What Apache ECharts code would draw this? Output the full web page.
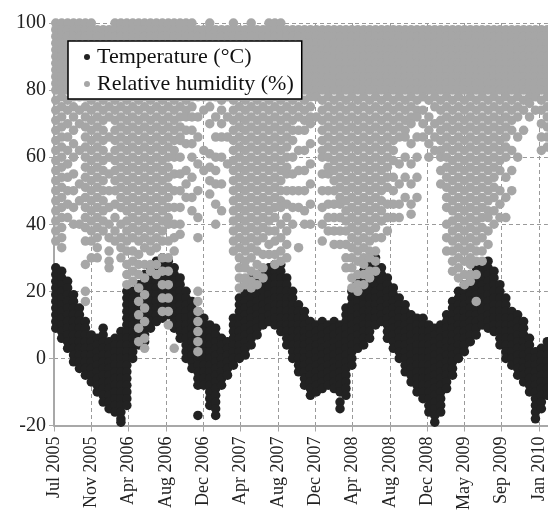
<!DOCTYPE html>
<html>
<head>
<meta charset="utf-8">
<script src="https://cdn.jsdelivr.net/npm/echarts@6/dist/echarts.min.js"></script>
<style>
  html, body { margin: 0; padding: 0; background: #fff; }
  #chart { width: 548px; height: 513px; }
</style>
</head>
<body>
<div id="chart"></div>
<script>
// x: days since early Jul 2005, one column of readings every 20 days
const binDay = [6, 26, 46, 66, 86, 106, 126, 146, 166, 186, 206, 226, 246, 266, 286, 306, 326, 346, 366, 386,
  406, 426, 446, 466, 486, 506, 526, 546, 566, 586, 606, 626, 646, 666, 686, 706, 726, 746, 766, 786,
  806, 826, 846, 866, 886, 906, 926, 946, 966, 986, 1006, 1026, 1046, 1066, 1086, 1106, 1126, 1146, 1166, 1186,
  1206, 1226, 1246, 1266, 1286, 1306, 1326, 1346, 1366, 1386, 1406, 1426, 1446, 1466, 1486, 1506, 1526, 1546, 1566, 1586,
  1606, 1626, 1646, 1666]

const tickLabels = ['Jul 2005', 'Nov 2005', 'Apr 2006', 'Aug 2006', 'Dec 2006', 'Apr 2007', 'Aug 2007',
  'Dec 2007', 'Apr 2008', 'Aug 2008', 'Dec 2008', 'May 2009', 'Sep 2009', 'Jan 2010']

// temperature readings (°C) in each column
const tempByBin = [
  [27,25,23,21,19,17,15,13,11,9],
  [26,24,22,20,18,16,14,12,10,8,6],
  [23,21,19,17,15,13,11,9,7,5,3],
  [19,17,15,13,11,9,7,5,3,1,-1],
  [15,13,11,9,7,5,3,1,-1,-3],
  [11,9,7,5,3,1,-1,-3,-5],
  [7,5,3,1,-1,-3,-5,-7],
  [6,4,2,0,-2,-4,-6,-8,-10],
  [9,7,5,3,1,-1,-3,-5,-7,-9,-11,-13],
  [5,3,1,-1,-3,-5,-7,-9,-11,-13,-15],
  [6,4,2,0,-2,-4,-6,-8,-10,-12,-14,-16],
  [8,6,4,2,0,-2,-4,-6,-8,-10,-12,-14,-16,-18,-19],
  [20,18,16,14,12,10,8,6,4,2,0,-2,-4,-6,-8,-10,-12,-14],
  [20,18,16,14,12,10,8,6,4,2,0],
  [22,20,18,16,14,12,10,8,6,4],
  [25,23,21,19,17,15,13,11,9,7,5],
  [27,25,23,21,19,17,15,13,11,9],
  [29,27,25,23,21,19,17,15,13,11],
  [30,28,26,24,22,20,18,16,14,12],
  [29,27,25,23,21,19,17,15,13],
  [27,25,23,21,19,17,15,13,11,9],
  [24,22,20,18,16,14,12,10,8,6],
  [20,18,16,14,12,10,8,6,4,2,0],
  [17,15,13,11,9,7,5,3,1,-1,-3],
  [14,12,10,8,6,4,2,0,-2,-4,-6,-8,-17],
  [12,10,8,6,4,2,0,-2,-4,-6,-8],
  [10,8,6,4,2,0,-2,-4,-6,-8,-10,-12,-14],
  [9,7,5,3,1,-1,-3,-5,-7,-9,-11,-13,-15,-17],
  [6,4,2,0,-2,-4,-6,-8],
  [5,3,1,-1,-3,-5],
  [12,10,8,6,4,2,0,-2],
  [18,16,14,12,10,8,6,4,2,0],
  [21,19,17,15,13,11,9,7,5,3,1],
  [24,22,20,18,16,14,12,10,8,6,4],
  [25,23,21,19,17,15,13,11,9,7],
  [26,24,22,20,18,16,14,12,10],
  [27,25,23,21,19,17,15,13,11],
  [28,26,24,22,20,18,16,14,12,10],
  [28,26,24,22,20,18,16,14,12,10,8],
  [24,22,20,18,16,14,12,10,8,6,4],
  [20,18,16,14,12,10,8,6,4,2,0],
  [16,14,12,10,8,6,4,2,0,-2,-4],
  [14,12,10,8,6,4,2,0,-2,-4,-6,-8],
  [11,9,7,5,3,1,-1,-3,-5,-7,-9,-11],
  [10,8,6,4,2,0,-2,-4,-6,-8,-10],
  [11,9,7,5,3,1,-1,-3,-5,-7,-9],
  [10,8,6,4,2,0,-2,-4,-6,-8],
  [11,9,7,5,3,1,-1,-3,-5,-7,-9],
  [10,8,6,4,2,0,-2,-4,-6,-8,-10,-13,-15],
  [15,13,11,9,7,5,3,1,-1,-3,-5,-7,-9,-11],
  [20,18,16,14,12,10,8,6,4,2,0,-2],
  [23,21,19,17,15,13,11,9,7,5,3],
  [26,24,22,20,18,16,14,12,10,8,6,4],
  [28,26,24,22,20,18,16,14,12,10,8,6],
  [30,28,26,24,22,20,18,16,14,12,10],
  [27,25,23,21,19,17,15,13,11],
  [24,22,20,18,16,14,12,10,8,6],
  [21,19,17,15,13,11,9,7,5,3],
  [18,16,14,12,10,8,6,4,2,0],
  [16,14,12,10,8,6,4,2,0,-2,-4],
  [13,11,9,7,5,3,1,-1,-3,-5,-7],
  [12,10,8,6,4,2,0,-2,-4,-6,-8,-10],
  [12,10,8,6,4,2,0,-2,-4,-6,-8,-10,-12],
  [10,8,6,4,2,0,-2,-4,-6,-8,-10,-12,-14,-16],
  [9,7,5,3,1,-1,-3,-5,-7,-9,-11,-13,-15,-17,-19],
  [10,8,6,4,2,0,-2,-4,-6,-8,-10,-12,-14,-16],
  [13,11,9,7,5,3,1,-1,-3,-5,-7,-9],
  [17,15,13,11,9,7,5,3,1,-1,-3,-5],
  [20,18,16,14,12,10,8,6,4,2,0],
  [22,20,18,16,14,12,10,8,6,4,2],
  [25,23,21,19,17,15,13,11,9,7,5],
  [27,25,23,21,19,17,15,13,11,9,7],
  [28,26,24,22,20,18,16,14,12,10],
  [29,27,25,23,21,19,17,15,13,11,9],
  [26,24,22,20,18,16,14,12,10,8],
  [22,20,18,16,14,12,10,8,6,4],
  [18,16,14,12,10,8,6,4,2,0],
  [14,12,10,8,6,4,2,0,-2],
  [13,11,9,7,5,3,1,-1,-3,-5],
  [11,9,7,5,3,1,-1,-3,-5,-7],
  [6,4,2,0,-2,-4,-6,-8,-10],
  [2,0,-2,-4,-6,-8,-10,-12,-14,-16,-18],
  [3,1,-1,-3,-5,-7,-9,-11,-13,-15],
  [5,3,1,-1,-3,-5,-7,-9,-11]
]

// relative humidity readings (%) in each column (the part under the legend box is hidden anyway)
const rhByBin = [
  [100,98,96,94,92,90,88,86,84,82,80,77,74,71,68,65,62,59,56,53,50,47,44,41,38,35],
  [100,98,96,94,92,90,88,86,84,82,80,78,75,72,69,66,63,60,57,54,51,48,45,42,39,36,33],
  [100,98,96,94,92,90,88,86,84,82,80,77,74,70,66,62,58,54,50,46,42],
  [100,98,96,78,75,72,68,64,60,55,50,45,40],
  [100,98,96,78,74,70,62,52,47,40],
  [100,98,96,78,75,72,69,66,63,60,57,54,51,48,45,42,39,35,28,20,17],
  [100,98,96,77,74,71,68,65,62,59,56,53,50,47,44,41,38,35,30],
  [98,96,78,75,72,69,66,63,60,57,54,51,48,45,42,39,36,33,30],
  [98,96,77,74,71,68,65,62,59,56,53,50,47,44,41,38],
  [98,96,78,75,72,66,60,55,50,45,40,36,32,29,27],
  [100,98,96,77,74,71,68,65,62,59,56,53,50,46,42,38,35],
  [100,98,96,78,75,72,69,66,63,60,57,54,51,48,45,40,36,33,30],
  [100,98,96,77,74,71,68,65,62,59,56,53,50,47,44,41,38,35,32,28,25,22],
  [100,98,96,78,75,72,69,66,63,60,57,54,51,48,45,42,39,36,32,29,26,23],
  [100,98,96,77,74,71,68,65,62,59,56,53,50,47,44,41,38,35,31,28,25,21,17,13,9,5],
  [100,98,96,78,75,72,69,66,63,60,57,54,51,48,45,42,39,36,33,28,24,19,15,11,6,3],
  [100,98,96,77,74,71,68,65,62,59,56,53,50,47,44,41,38,35,32,28,26],
  [100,98,96,78,75,72,69,66,63,60,57,54,51,48,45,42,39,36,33,28,25],
  [100,98,96,77,74,71,68,65,62,59,56,53,50,47,44,41,38,35,30,26,22,18,14],
  [100,98,96,78,75,72,69,66,63,60,57,54,51,48,45,42,40,35,30,26,22,18,14,10],
  [100,98,96,77,74,71,68,65,62,60,55,50,45,40,36,32,3],
  [100,98,96,78,75,72,69,66,65,60,55,50,45,40,37],
  [100,98,96,77,74,72,68,64,56,52,48],
  [100,98,96,78,75,72,68,64,60,54,48,44],
  [98,96,78,72,66,58,50,42,36,20,17,14,11,8,5,2],
  [98,96,78,74,62,56],
  [100,98,96,78,75,70,61,57,53,49],
  [98,96,78,72,66,60,56,52,46,40],
  [98,96,77,74,70,66,60,52,44],
  [98,96,78,72,66,58],
  [100,98,96,77,74,71,68,65,62,59,56,53,50,47,44,41,38,35,32],
  [98,96,78,75,72,69,66,63,60,57,54,51,48,45,42,39,36,33,30,27,24,21],
  [98,96,77,74,71,68,65,62,59,56,53,50,47,44,41,38,35,32,29,27,24,22],
  [100,98,96,78,75,72,69,66,63,60,57,54,51,48,45,42,39,36,33,30,26,23,21],
  [98,96,77,74,71,68,65,62,59,56,53,50,47,44,41,38,35,32,28,25,22],
  [98,96,78,75,72,69,66,63,60,57,54,51,48,45,42,39,36,31,27,24],
  [100,98,96,77,74,71,68,65,62,59,56,53,50,47,44,41,38,34,31],
  [100,98,96,78,75,72,69,66,63,60,57,54,51,48,45,42,38,35,31,28],
  [100,98,96,77,74,71,68,65,62,59,56,53,50,47,45,40,36,32,29],
  [98,96,78,75,72,69,66,63,60,57,55,50,46,42,38,34,30],
  [98,96,77,74,71,68,65,60,55,50,45,40],
  [98,96,78,75,72,68,62,56,50,45,33],
  [98,96,94,92,90,88,86,84,82,80,77,74,71,68,62,56,50,44,40],
  [98,96,94,92,90,88,86,84,82,80,78,75,72,70,64,58,52,46,40],
  [98,96,94,92,90,88,86,84,82,80,78,72],
  [98,96,94,92,90,88,86,84,82,80,77,74,71,68,65,62,60,55,50,45,40,35],
  [98,96,94,92,90,88,86,84,82,80,78,75,72,69,66,63,60,57,55,50,46,42,38],
  [98,96,94,92,90,88,86,84,82,80,77,74,71,68,65,62,59,56,53,50,46,42,38,34],
  [98,96,94,92,90,88,86,84,82,80,78,75,72,69,66,63,60,57,54,51,48,46,42,38,34],
  [98,96,94,92,90,88,86,84,82,80,77,74,71,68,65,62,59,56,53,50,47,44,41,38,34,30,27],
  [98,96,94,92,90,88,86,84,82,80,78,75,72,69,66,63,60,57,54,51,48,45,42,39,36,33,30,27,24,21],
  [98,96,94,92,90,88,86,84,82,80,77,74,71,68,65,62,59,56,53,50,47,44,41,38,35,32,29,25,22,20],
  [98,96,94,92,90,88,86,84,82,80,78,75,72,69,66,63,60,57,54,51,48,45,42,39,36,33,30,28,25,22],
  [98,96,94,92,90,88,86,84,82,80,77,74,71,68,65,62,59,56,53,50,47,44,41,38,35,32,30,26,24],
  [98,96,94,92,90,88,86,84,82,80,78,75,72,69,66,63,60,57,54,51,48,45,42,39,36,32,29,26],
  [98,96,94,92,90,88,86,84,82,80,77,74,71,68,65,62,59,56,53,50,47,44,41,36],
  [98,96,94,92,90,88,86,84,82,80,78,75,72,69,66,63,60,57,54,51,46,42,38],
  [98,96,94,92,90,88,86,84,82,80,77,74,71,68,65,62,59,54,50,46,42],
  [98,96,94,92,90,88,86,84,82,80,78,75,72,69,66,58,52,46,42],
  [98,96,94,92,90,88,86,84,82,80,77,74,71,68,66,60,54,48],
  [98,96,94,92,90,88,86,84,82,80,78,75,72,70,64,58,52,46,43],
  [98,96,94,92,90,88,86,84,82,80,77,74,72,66,60,54,48],
  [98,96,94,92,90,88,86,84,82,80,78,74,70,66],
  [98,96,94,92,90,88,86,84,82,80,77,72,68,64,60],
  [98,96,94,92,90,88,86,84,82,80,78,75,70,66,62],
  [98,96,94,92,90,88,86,84,82,80,77,74,71,68,65,62,60,56,52],
  [98,96,94,92,90,88,86,84,82,80,78,75,72,69,66,63,60,57,54,51,48,45,40,36,32],
  [98,96,94,92,90,88,86,84,82,80,77,74,71,68,65,62,59,56,53,50,47,44,41,38,35,32,29,26],
  [98,96,94,92,90,88,86,84,82,80,78,75,72,69,66,63,60,57,54,51,48,45,42,39,36,33,30,27,24],
  [98,96,94,92,90,88,86,84,82,80,77,74,71,68,65,62,59,56,53,50,47,44,41,38,35,32,29,25,22],
  [98,96,94,92,90,88,86,84,82,80,78,75,72,69,66,63,60,57,54,51,48,45,42,39,36,33,30,28,25,23],
  [98,96,94,92,90,88,86,84,82,80,77,74,71,68,65,62,59,56,53,50,47,44,41,38,35,32,29,25,17],
  [98,96,94,92,90,88,86,84,82,80,78,75,72,69,66,63,60,57,54,51,48,45,42,39,36,32,29],
  [98,96,94,92,90,88,86,84,82,80,77,74,71,68,65,62,59,56,53,50,47,44,42,38,34],
  [98,96,94,92,90,88,86,84,82,80,78,75,72,69,66,63,60,57,54,51,48,44,40],
  [98,96,94,92,90,88,86,84,82,80,77,74,71,68,65,62,59,56,50,46,42],
  [98,96,94,92,90,88,86,84,82,80,78,75,72,69,66,63,60,54,48,42],
  [98,96,94,92,90,88,86,84,82,80,77,74,71,68,62,56,50],
  [98,96,94,92,90,88,86,84,82,80,78,75,72,66,60],
  [98,96,94,92,90,88,86,84,82,80,77,74,68],
  [98,96,94,92,90,88,86,84,82,80,78,76,72],
  [98,96,94,92,90,88,86,84,82,80,78,74],
  [98,96,94,92,90,88,86,84,82,80,77,74,70,66,62],
  [98,96,94,92,90,88,86,84,82,80,78,75,72,69,66,63]
]

const toPoints = (bins) => {
  const pts = []
  bins.forEach((vals, k) => {
    vals.forEach(v => pts.push([binDay[k], v]))
  })
  return pts
}

const tickStep = 126
const serif = 'Liberation Serif, Times New Roman, serif'
const gridColor = '#9a9a9a'
const axisColor = '#a8a8a8'

const chart = echarts.init(document.getElementById('chart'), null, { renderer: 'canvas' })

chart.setOption({
  animation: false,
  grid: { left: 54, top: 23, right: 0, bottom: 86 },
  legend: {
    orient: 'vertical',
    left: 68,
    top: 41,
    padding: [4, 8, 3, 16],
    itemGap: 3,
    itemWidth: 6,
    itemHeight: 6,
    icon: 'circle',
    backgroundColor: '#fff',
    borderColor: '#000',
    borderWidth: 1.5,
    borderRadius: 0,
    textStyle: { fontFamily: serif, fontSize: 22, color: '#111', lineHeight: 24, padding: [0, 0, 0, 2] },
    data: ['Temperature (°C)', 'Relative humidity (%)']
  },
  xAxis: {
    type: 'value',
    min: 0,
    max: 1668,
    interval: tickStep,
    axisLine: { show: true, onZero: false, lineStyle: { color: axisColor, width: 2 } },
    axisTick: { show: true, length: 6, lineStyle: { color: axisColor, width: 1 } },
    splitLine: { show: true, lineStyle: { color: gridColor, type: [4, 3], width: 1 } },
    axisLabel: {
      rotate: 90,
      margin: 11,
      fontFamily: serif,
      fontSize: 18,
      color: '#222',
      showMaxLabel: false,
      formatter: (v) => {
        const i = Math.round(v / tickStep)
        return Math.abs(v - i * tickStep) < 0.5 && tickLabels[i] ? tickLabels[i] : ''
      }
    }
  },
  yAxis: {
    type: 'value',
    min: -20,
    max: 100,
    interval: 20,
    axisLine: { show: true, onZero: false, lineStyle: { color: axisColor, width: 2 } },
    axisTick: { show: true, length: 5, lineStyle: { color: axisColor, width: 1 } },
    splitLine: { show: true, lineStyle: { color: gridColor, type: [4, 3], width: 1 } },
    axisLabel: { margin: 8, fontFamily: serif, fontSize: 20, color: '#222' }
  },
  series: [
    {
      name: 'Temperature (°C)',
      type: 'scatter',
      symbol: 'circle',
      symbolSize: 9.5,
      itemStyle: { color: '#222222', opacity: 1 },
      data: toPoints(tempByBin)
    },
    {
      name: 'Relative humidity (%)',
      type: 'scatter',
      symbol: 'circle',
      symbolSize: 9.5,
      itemStyle: { color: '#a6a6a6', opacity: 1 },
      data: toPoints(rhByBin)
    }
  ]
})
</script>
</body>
</html>
